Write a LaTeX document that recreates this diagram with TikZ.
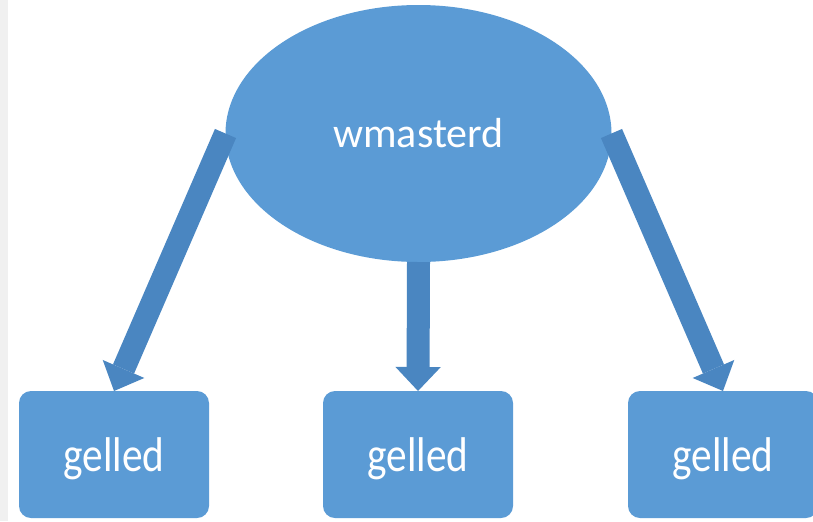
\documentclass[tikz,border=0pt]{standalone}
\usepackage{fontspec}
\setmainfont{Carlito}
\usetikzlibrary{shapes.geometric,arrows.meta,positioning}
\definecolor{boxblue}{HTML}{5B9BD5}
\definecolor{arrowblue}{HTML}{4A86C1}
\definecolor{stripgray}{HTML}{F0F0F0}

\begin{document}
\begin{tikzpicture}[x=0.75pt,y=-0.75pt,
    master/.style={ellipse, fill=boxblue, minimum width=289.5pt, minimum height=192.75pt,
        inner sep=0pt, outer sep=0pt, text=white, font=\fontsize{31.5}{36}\selectfont},
    gel/.style={rectangle, rounded corners=9pt, fill=boxblue, minimum width=142.5pt,
        minimum height=95.25pt, inner sep=0pt, outer sep=0pt, text depth=0pt,
        text=white, font=\fontsize{31}{36}\selectfont},
    blockarrow/.style={draw=arrowblue, line width=17.25pt,
        -{Triangle[length=18pt,width=34pt,line width=0pt]}}]
    \clip (0,0) rectangle (813,521);
    % left strip
    \fill[stripgray] (0,0) rectangle (8,521);

    % top
    \node[master] (m) at (418.5,133.5) {wmasterd};

    % bottom row
    \node[gel] (g2) at (418,454.5) {\scalebox{1}[1.18]{gelled}};
    \node[gel, left=85.5pt of g2] (g1) {\scalebox{1}[1.18]{gelled}};
    \node[gel, right=86.25pt of g2] (g3) {\scalebox{1}[1.18]{gelled}};

    % arrows
    \draw[blockarrow] (m.west) -- (g1.north);
    \draw[blockarrow] (m.south) -- (g2.north);
    \draw[blockarrow] (m.east) -- (g3.north);
\end{tikzpicture}
\end{document}
